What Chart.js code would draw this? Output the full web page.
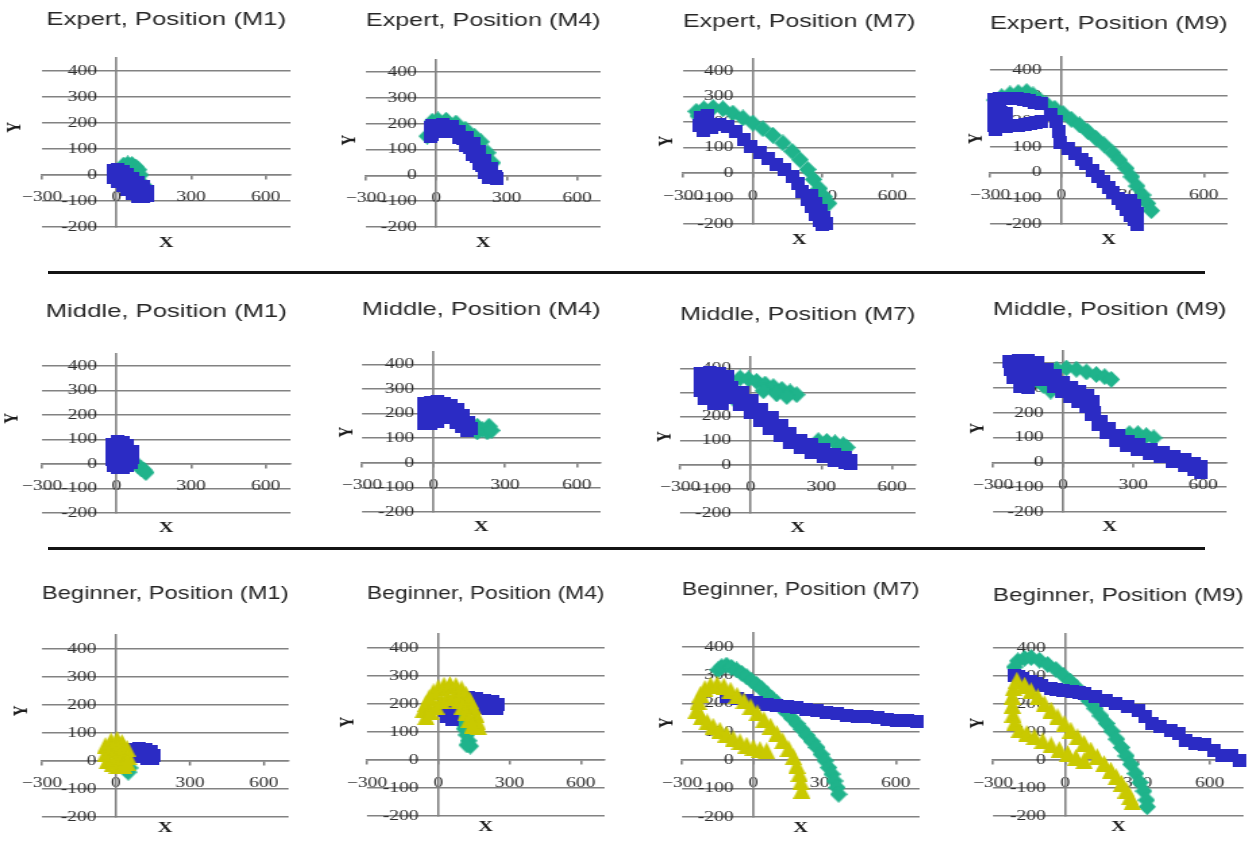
<!DOCTYPE html>
<html>
<head>
<meta charset="utf-8">
<title>Hand trajectories by skill level and position</title>
<script src="https://cdn.jsdelivr.net/npm/chart.js@4.4.1/dist/chart.umd.min.js"></script>
<style>
  html, body { margin: 0; padding: 0; background: #ffffff; }
  #board { position: relative; width: 1255px; height: 841px; overflow: hidden; background: #ffffff; }
  #board canvas { position: absolute; }
  .rule { position: absolute; height: 3px; background: #141414; }
</style>
</head>
<body>
<div id="board">
  <div class="rule" style="left:48px; top:271px; width:1157px;"></div>
  <div class="rule" style="left:48px; top:547px; width:1157px;"></div>
</div>
<script>
// ---- panel titles and axis ticks ----
const panelTitles = [
  'Expert, Position (M1)', 'Expert, Position (M4)', 'Expert, Position (M7)', 'Expert, Position (M9)',
  'Middle, Position (M1)', 'Middle, Position (M4)', 'Middle, Position (M7)', 'Middle, Position (M9)',
  'Beginner, Position (M1)', 'Beginner, Position (M4)', 'Beginner, Position (M7)', 'Beginner, Position (M9)'
];
const xTicks = [-300, 0, 300, 600];
const xTickText = ['\u2212300', '0', '300', '600'];
const yTicks = [-200, -100, 0, 100, 200, 300, 400];
const axisNames = ['X', 'Y'];

// ---- trajectories, [x, y] ----
// Expert
const expertM1Teal = [[28,38],[45,42],[62,40],[78,30],[88,20],[95,0],[110,-40]];
const expertM1Blue = [[-12,17],[-12,0],[-10,-10],[5,20],[5,-25],[25,12],[25,-42],[45,0],[45,-57],[65,-15],[65,-72],
  [85,-30],[85,-83],[105,-45],[105,-83],[122,-62],[125,-78]];

const expertM4Teal = [[-39,152],[-17,210],[7,215],[42,214],[84,203],[124,179],[162,152],[190,130],[218,88],[239,49]];
const expertM4Blue = [[-25,184],[-25,152],
  [-17,195],[28,197],[68,190],[99,172],[130,148],[158,123],[183,92],[208,58],[232,27],[251,-4],[256,-12],
  [-21,159],[21,172],[63,169],[96,148],[127,117],[155,81],[183,45],[208,10],[225,-9],
  [0,178],[45,182],[84,169],[115,143],[144,110],[169,74],[194,40],[218,10],[239,-9]];

const expertM7Teal = [[-236,224],[-243,242],[-211,252],[-171,257],[-129,252],[-86,235],[-43,216],[0,196],[43,174],[86,148],
  [129,118],[169,85],[203,52],[236,14],[261,-25],[286,-61],[307,-93],[326,-119]];
const expertM7Blue = [[-193,224],[-226,217],[-229,187],[-211,165],[-179,178],[-146,191],[-111,182],[-74,161],[-40,132],[-7,103],
  [29,80],[64,56],[100,34],[136,12],[169,-12],[193,-41],[214,-71],[236,-103],[254,-132],[271,-162],[289,-188],[300,-200],
  [250,-90],[271,-119],[293,-149],[307,-175],[314,-197]];

const expertM9Teal = [[-279,283],[-251,296],[-216,307],[-181,312],[-146,316],[-119,303],[-91,283],[-63,268],[-28,251],[7,231],
  [42,208],[77,186],[112,160],[146,134],[181,108],[216,78],[244,49],[272,17],[296,-16],[318,-52],[342,-87],[363,-120],[379,-148]];
const expertM9Blue = [[-286,285],[-260,288],[-235,290],[-210,290],[-185,288],[-160,285],[-135,280],[-110,275],[-85,268],
  [-286,260],[-286,235],[-286,210],[-286,185],[-280,168],[-260,260],[-255,235],[-230,232],
  [-255,180],[-230,180],[-205,182],[-180,184],[-155,188],[-130,192],[-105,196],[-85,200],
  [-42,225],[-20,200],[-10,160],[-3,117],[31,95],[59,73],[84,52],[105,36],[133,10],[156,-13],[179,-35],[198,-57],[216,-78],
  [237,-100],[258,-122],[276,-143],[293,-165],[310,-184],[321,-200],[293,-107],[307,-126],[321,-158]];

// Middle
const middleM1Teal = [[85,-5],[100,-20],[110,-25],[118,-35]];
const middleM1Blue = [[-16,80],[-16,50],[-16,20],[-10,-5],[5,91],[5,60],[5,30],[5,0],[5,-15],[25,88],[25,60],[25,30],[25,0],[25,-15],
  [45,75],[45,50],[45,20],[45,-5],[62,50],[65,25],[60,5]];

const middleM4Teal = [[183,149],[183,126],[204,135],[225,126],[232,149],[243,132]];
const middleM4Blue = [[-38,243],[-38,213],[-38,184],[-38,159],[-10,246],[-10,213],[-10,186],[-10,162],[18,251],[18,170],
  [44,243],[72,234],[100,216],[124,193],[146,166],[160,139],[38,200],[65,184],[93,166],[118,146],[142,132]];

const middleM7Teal = [[-71,273],[-45,360],[-10,356],[25,346],[61,335],[96,324],[132,313],[167,302],[195,291],[54,307],[110,294],[153,283],
  [287,100],[323,97],[358,91],[393,83],[408,72]];
const middleM7Blue = [[-212,379],[-173,384],[-133,379],[-99,366],[-212,342],[-173,346],[-133,342],[-212,307],[-173,307],[-133,307],
  [-198,273],[-158,255],[-119,255],
  [-81,321],[-38,299],[4,266],[47,231],[89,197],[132,162],[167,130],[209,102],[259,83],[308,64],[358,44],[400,30],[424,19],
  [-88,280],[-45,252],[-3,217],[40,183],[82,152],[125,120],[167,93],[209,72],[259,51],[308,33],[358,17],[400,10],[424,6]];

const middleM9Teal = [[-28,376],[14,381],[57,376],[100,365],[142,355],[178,346],[206,335],[-114,335],[-85,311],[-53,288],
  [284,116],[320,116],[356,108],[388,99]];
const middleM9Blue = [[-232,409],[-192,411],[-149,411],[-107,405],[-228,376],[-189,376],[-149,376],[-109,369],[-213,342],[-175,338],
  [-138,335],[-185,308],[-149,301],
  [-71,376],[-36,349],[0,322],[36,301],[71,288],[107,270],[128,247],[135,200],[164,166],[199,135],[235,108],[277,85],[327,72],
  [377,54],[427,41],[476,24],[519,11],[562,-3],[590,-16],
  [-78,335],[-43,308],[-7,288],[28,268],[64,247],[100,227],[121,193],[149,153],[185,119],[228,89],[270,68],[320,51],[370,35],
  [419,22],[469,4],[519,-14],[562,-27],[590,-41]];

// Beginner
const beginnerM1Teal = [[40,-30],[55,-25],[50,-40]];
const beginnerM1Blue = [[71,41],[95,43],[120,40],[145,35],[156,20],[150,10],[125,10],[100,15],[80,25]];
const beginnerM1Yellow = [[-43,55],[-43,25],[-35,0],[-20,72],[-20,40],[-15,-10],[5,77],[5,45],[5,15],[5,-17],[25,65],[25,35],
  [25,5],[30,-15],[45,45],[50,15],[45,-5]];

const beginnerM4Teal = [[94,155],[102,133],[110,112],[119,90],[127,69],[135,50],[121,54]];
const beginnerM4Blue = [[28,179],[35,155],[60,145],[56,173],[91,220],[126,223],[160,220],[195,214],[230,208],[251,200],
  [105,190],[140,190],[174,188],[209,184],[244,184]];
const beginnerM4Yellow = [[-63,180],[-52,202],[-38,224],[-21,244],[0,259],[24,268],[49,271],[74,267],[98,255],[116,236],[133,214],
  [146,190],[158,164],[165,137],[169,119],
  [-52,155],[-32,173],[-10,193],[14,212],[38,224],[63,226],[86,214],[102,193],[116,169],[130,145],[144,125]];

const beginnerM7Teal = [[-148,318],[-134,329],[-113,335],[-92,327],[-70,318],[-49,306],[-28,294],[-7,280],[14,267],[35,252],
  [56,235],[77,219],[99,202],[120,185],[141,167],[162,148],[183,129],[204,109],[225,88],[246,67],[268,45],[286,21],
  [303,-2],[317,-26],[331,-49],[342,-73],[352,-96],[359,-120]];
const beginnerM7Blue = [[-113,226],[-70,218],[-28,209],[14,202],[56,198],[99,192],[141,188],[183,186],[225,180],[268,174],
  [310,168],[352,163],[394,159],[436,155],[479,153],[521,149],[563,145],[605,141],[648,139],[690,135]];
const beginnerM7Yellow = [[-239,176],[-232,206],[-222,233],[-204,253],[-180,265],[-152,268],[-124,261],[-96,247],[-68,229],
  [-39,209],[-11,188],[17,167],[45,143],[73,120],[99,94],[124,68],[148,41],[169,12],[183,-18],[194,-47],[200,-76],[204,-106],
  [-218,153],[-194,135],[-169,120],[-141,106],[-113,92],[-84,76],[-56,65],[-28,53],[0,45],[28,38],[56,33]];

const beginnerM9Teal = [[-211,333],[-197,355],[-169,364],[-142,367],[-107,357],[-73,342],[-39,324],[-8,303],[21,282],[48,259],
  [74,236],[99,211],[124,184],[147,158],[171,131],[193,104],[213,75],[234,45],[253,15],[272,-15],[292,-48],[310,-80],
  [326,-111],[337,-143],[340,-167]];
const beginnerM9Blue = [[-211,303],[-193,298],[-176,292],[-142,280],[-120,274],[-100,268],[-59,256],[-35,253],[-11,250],[30,244],
  [55,241],[78,238],[127,226],[168,214],[209,202],[257,190],[305,179],[333,155],[360,131],[395,119],[436,107],[471,95],
  [498,71],[539,60],[580,54],[615,36],[649,18],[691,18],[725,0]];
const beginnerM9Yellow = [[-201,286],[-215,259],[-220,228],[-220,196],[-217,164],[-211,133],[-190,109],
  [-160,95],[-128,83],[-94,69],[-59,54],[-25,38],[10,24],[44,10],[78,-2],
  [-169,268],[-142,248],[-114,226],[-87,202],[-59,179],[-32,155],[-4,131],[23,107],[51,83],[78,60],[106,36],[133,12],
  [161,-12],[189,-36],[212,-60],[234,-83],[253,-107],[268,-131],[278,-149]];

const panelSeries = [
  {teal: expertM1Teal, blue: expertM1Blue},
  {teal: expertM4Teal, blue: expertM4Blue},
  {teal: expertM7Teal, blue: expertM7Blue},
  {teal: expertM9Teal, blue: expertM9Blue},
  {teal: middleM1Teal, blue: middleM1Blue},
  {teal: middleM4Teal, blue: middleM4Blue},
  {teal: middleM7Teal, blue: middleM7Blue},
  {teal: middleM9Teal, blue: middleM9Blue},
  {teal: beginnerM1Teal, blue: beginnerM1Blue, yellow: beginnerM1Yellow},
  {teal: beginnerM4Teal, blue: beginnerM4Blue, yellow: beginnerM4Yellow},
  {teal: beginnerM7Teal, blue: beginnerM7Blue, yellow: beginnerM7Yellow},
  {teal: beginnerM9Teal, blue: beginnerM9Blue, yellow: beginnerM9Yellow}
];

// ---- page placement of each plot area (px): left, right, top, bottom, title centre, x max ----
const panelBoxes = [
  [42, 292, 57.7, 226.7, 20, 700],
  [365.7, 602.4, 58.8, 226.7, 20.5, 700],
  [683.3, 916.6, 58.3, 224, 22, 700],
  [990, 1229, 57.2, 224, 24, 700],
  [41.7, 291.7, 353.7, 513.3, 312, 700],
  [362.3, 602.3, 351.7, 511.7, 309.5, 700],
  [680, 916.6, 356.3, 512.7, 315, 700],
  [993, 1227.7, 350.9, 511.7, 310, 700],
  [41.7, 289.8, 634.7, 816.7, 594, 700],
  [366.7, 605.6, 634.3, 816, 594, 700],
  [681.7, 920.6, 632.5, 816.7, 590, 700],
  [993, 1245, 634.3, 816, 596, 740]
];
// axis-name offsets (px): Y left of plot, Y shift from middle, X below plot
const nameOffsets = [
  [27, -15, 16], [16, -3, 16], [16, 0, 16], [13, -2, 16],
  [29, -15, 15], [15, 0, 15], [15, 2, 15], [15, -3, 15],
  [20, -15, 11.5], [19, -3, 11.5], [15, -2, 11], [15, -2, 11]
];

// ---- look ----
const stretchX = 1.35;   // lettering is drawn narrow and widened with the canvas
const gridColor = '#828282';
const textColor = '#2e2e2e';
const tickFont = {family: '"Liberation Serif", "Times New Roman", serif', size: 14.5};
const yLabelGap = '    ';   // keeps the value labels clear of the vertical axis
const seriesLook = {
  teal:   {shape: 'diamond',  color: '#1fb38b', size: 17},
  blue:   {shape: 'square',   color: '#2b2bc4', size: 13},
  yellow: {shape: 'triangle', color: '#c9c900', size: 17}
};
const drawOrder = ['yellow', 'blue', 'teal'];   // first entry ends up on top

function markerImage(look, sx) {
  const c = document.createElement('canvas');
  const h = look.size;
  const w = Math.max(2, Math.round(h / sx));
  c.width = w; c.height = h;
  const g = c.getContext('2d');
  g.fillStyle = look.color;
  g.beginPath();
  if (look.shape === 'square') {
    g.rect(0, 0, w, h);
  } else if (look.shape === 'diamond') {
    g.moveTo(w / 2, 0); g.lineTo(w, h / 2); g.lineTo(w / 2, h); g.lineTo(0, h / 2); g.closePath();
  } else {
    g.moveTo(w / 2, 0); g.lineTo(w, h); g.lineTo(0, h); g.closePath();
  }
  g.fill();
  return c;
}

// draws the bold "X" and rotated "Y" beside each plot
const axisNamePlugin = {
  id: 'axisNames',
  afterDraw(chart, args, opts) {
    const a = chart.chartArea;
    const ctx = chart.ctx;
    ctx.save();
    ctx.fillStyle = '#1e1e1e';
    ctx.font = 'bold 15px "Liberation Serif", "Times New Roman", serif';
    ctx.textAlign = 'center';
    ctx.textBaseline = 'middle';
    ctx.fillText(axisNames[0], (a.left + a.right) / 2, a.bottom + opts.xGap);
    ctx.translate(a.left - opts.yLeft, (a.top + a.bottom) / 2 + opts.yShift);
    ctx.rotate(-Math.PI / 2);
    ctx.fillText(axisNames[1], 0, 0);
    ctx.restore();
  }
};

const board = document.getElementById('board');
const padLeftPx = 50, padRightPx = 8, padBottomPx = 30;
const titleSize = 19, titleLine = 1.2;

panelTitles.forEach((title, i) => {
  const [pl, pr, pt, pb, ty, xMax] = panelBoxes[i];
  const [yLeft, yShift, xGap] = nameOffsets[i];
  const left = pl - padLeftPx;
  const width = (pr - pl) + padLeftPx + padRightPx;
  const top = ty - 20;
  const height = pb + padBottomPx - top;
  const cw = Math.round(width / stretchX);
  const sx = width / cw;

  const cv = document.createElement('canvas');
  cv.width = cw;
  cv.height = Math.round(height);
  cv.style.left = left + 'px';
  cv.style.top = top + 'px';
  cv.style.width = width + 'px';
  cv.style.height = Math.round(height) + 'px';
  board.appendChild(cv);

  const titleBox = titleSize * titleLine;
  const titleTop = 20 - titleBox / 2;
  const titleBottom = (pt - top) - titleTop - titleBox;

  const datasets = [];
  drawOrder.forEach(key => {
    const pts = panelSeries[i][key];
    if (!pts) return;
    datasets.push({
      label: key,
      data: pts,
      pointStyle: markerImage(seriesLook[key], sx),
      pointRadius: 6,
      pointHoverRadius: 6,
      showLine: false
    });
  });

  new Chart(cv, {
    type: 'scatter',
    data: {datasets},
    options: {
      responsive: false,
      animation: false,
      events: [],
      clip: false,
      layout: {padding: {left: padLeftPx / sx, right: padRightPx / sx, top: 0, bottom: padBottomPx}},
      plugins: {
        legend: {display: false},
        tooltip: {enabled: false},
        title: {
          display: true,
          text: title,
          fullSize: false,
          color: '#262626',
          font: {family: '"Liberation Sans", Arial, sans-serif', size: titleSize, weight: 'normal', lineHeight: titleLine},
          padding: {top: titleTop, bottom: titleBottom}
        },
        axisNames: {xGap: xGap, yLeft: yLeft / sx, yShift: yShift}
      },
      scales: {
        x: {
          type: 'linear',
          min: -300,
          max: xMax,
          position: {y: 0},
          afterBuildTicks: s => { s.ticks = xTicks.map(v => ({value: v})); },
          grid: {drawOnChartArea: false, color: gridColor, lineWidth: 1.6, tickLength: 4},
          border: {color: gridColor, width: 1.6},
          ticks: {
            autoSkip: false, maxRotation: 0, padding: 10, color: textColor, font: tickFont,
            callback: v => xTickText[xTicks.indexOf(v)]
          }
        },
        y: {
          type: 'linear',
          min: -200,
          max: 450,
          position: {x: 0},
          afterBuildTicks: s => { s.ticks = yTicks.map(v => ({value: v})); },
          grid: {color: gridColor, lineWidth: 1.6, drawTicks: false},
          border: {color: gridColor, width: 1.6},
          ticks: {
            autoSkip: false, color: textColor, font: tickFont,
            callback: v => String(v) + yLabelGap
          }
        }
      }
    },
    plugins: [axisNamePlugin]
  });
});
</script>
</body>
</html>
